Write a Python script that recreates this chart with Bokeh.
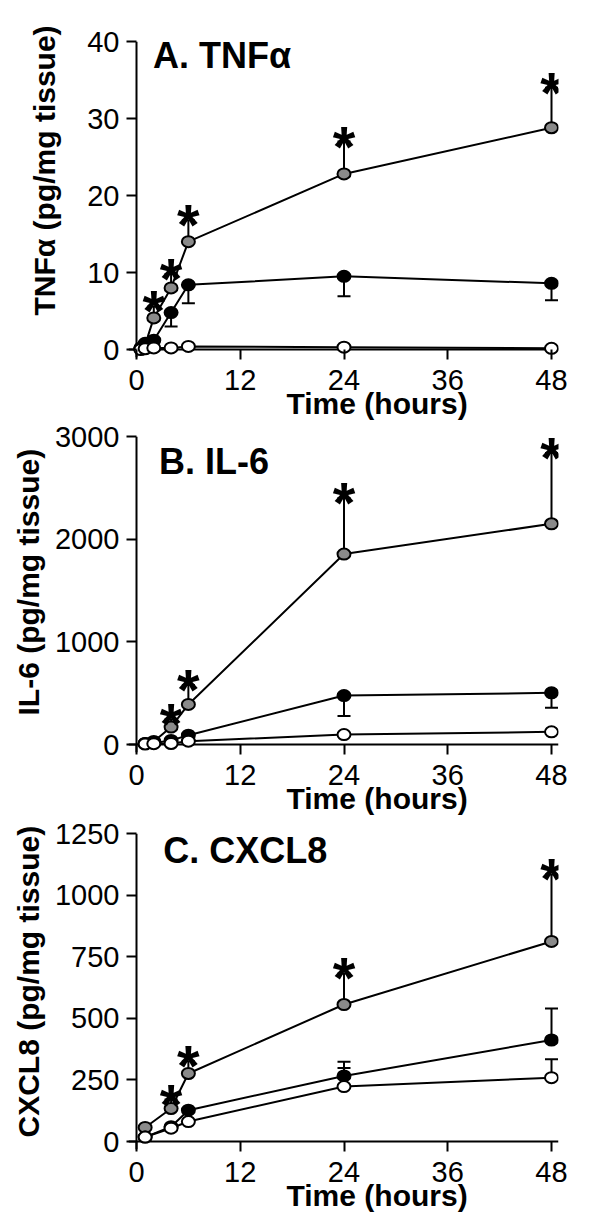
from bokeh.plotting import figure
from bokeh.models import (Range1d, ColumnDataSource, LabelSet, FixedTicker,
                          Span, Title)
from bokeh.layouts import column
from bokeh.embed import file_html
from bokeh.resources import INLINE
from bokeh.core.properties import value

FONT = "Liberation Sans"
GRAY = "#8a8a8a"

hour_ticks = [0, 12, 24, 36, 48]

# ---- Panel A: TNFα ----
tnf_time = [0.5, 1, 2, 4, 6, 24, 48]
tnf_gray = [0.2, 0.6, 4.1, 8.0, 14.0, 22.8, 28.8]
tnf_gray_err = [0, 0, 1.5, 1.8, 2.8, 4.2, 5.2]
tnf_gray_star = [False, False, True, True, True, True, True]
tnf_black = [0.1, 0.8, 1.2, 4.8, 8.4, 9.5, 8.6]
tnf_black_err = [0, 0, 0, 1.8, 2.4, 2.6, 2.2]      # drawn downwards
tnf_open = [0.0, 0.1, 0.2, 0.2, 0.4, 0.3, 0.15]
tnf_open_err = [0, 0, 0, 0, 0, 0, 0]
tnf_ticks = [0, 10, 20, 30, 40]

# ---- Panel B: IL-6 ----
il6_time = [1, 2, 4, 6, 24, 48]
il6_gray = [10, 30, 170, 390, 1855, 2150]
il6_gray_err = [0, 0, 75, 190, 545, 690]
il6_gray_star = [False, False, True, True, True, True]
il6_black = [10, 15, 40, 90, 477, 503]
il6_black_err = [0, 0, 0, 0, 200, 145]            # drawn downwards
il6_open = [5, 8, 10, 32, 97, 123]
il6_open_err = [0, 0, 0, 0, 0, 0]
il6_ticks = [0, 1000, 2000, 3000]

# ---- Panel C: CXCL8 ----
cx_time = [1, 4, 6, 24, 48]
cx_gray = [57, 134, 276, 556, 812]
cx_gray_err = [0, 36, 50, 126, 272]
cx_gray_star = [False, True, True, True, True]
cx_black = [18, 60, 127, 266, 412]
cx_black_err = [0, 0, 0, 58, 128]                 # drawn upwards
cx_open = [18, 54, 81, 223, 259]
cx_open_err = [0, 0, 0, 75, 75]
cx_ticks = [0, 250, 500, 750, 1000, 1250]

FW, FH = 430, 316          # frame size in px
PAD_L, PAD_R, PAD_B = 8, 7, 8


def panel(title, ylabel, t, gray, gerr, gstar, black, berr, bdown, opn, oerr,
          yticks, title_pos, top, bottom, ylab_standoff, ylab_offset):
    ymax = max(yticks)
    xmax = max(hour_ticks)
    kx = (FW - PAD_L - PAD_R) / xmax
    ky = (FH - PAD_B) / ymax
    p = figure(frame_width=FW, frame_height=FH,
               x_range=Range1d(-PAD_L / kx, xmax + PAD_R / kx),
               y_range=Range1d(-PAD_B / ky, ymax),
               output_backend="svg", toolbar_location=None,
               min_border_left=128, min_border_right=34,
               min_border_top=top, min_border_bottom=bottom)
    p.grid.visible = False
    p.outline_line_color = None
    p.background_fill_color = "white"
    p.border_fill_color = "white"

    for ax in (p.xaxis[0], p.yaxis[0]):
        ax.axis_line_color = None
        ax.major_tick_line_width = 2
        ax.major_tick_line_color = "black"
        ax.major_tick_in = 8
        ax.major_tick_out = 2
        ax.minor_tick_line_color = None
        ax.major_label_text_font = FONT
        ax.major_label_text_font_size = "29px"
        ax.major_label_text_color = "black"
    p.xaxis.major_label_standoff = 10
    p.yaxis.major_label_standoff = 7
    p.xaxis.ticker = FixedTicker(ticks=hour_ticks)
    p.yaxis.ticker = FixedTicker(ticks=yticks)

    p.add_layout(Title(text=ylabel, align="left", offset=ylab_offset,
                       standoff=ylab_standoff, text_font=FONT,
                       text_font_size="30px", text_font_style="bold",
                       text_color="black"), "left")
    p.add_layout(Title(text="Time (hours)", align="left", offset=158,
                       standoff=-16, text_font=FONT, text_font_size="30px",
                       text_font_style="bold", text_color="black"), "below")

    # axis lines through the origin
    p.add_layout(Span(location=0, dimension="width", line_color="black",
                      line_width=2, level="underlay"))
    p.add_layout(Span(location=0, dimension="height", line_color="black",
                      line_width=2, level="underlay"))

    # connecting lines
    for ys in (gray, black, opn):
        p.line(t, ys, line_color="black", line_width=2)

    # error bars
    def bars(ys, errs, down=False):
        xs = [x for x, e in zip(t, errs) if e > 0]
        y0 = [y for y, e in zip(ys, errs) if e > 0]
        y1 = [y - e if down else y + e for y, e in zip(ys, errs) if e > 0]
        if xs:
            p.segment(x0=xs, y0=y0, x1=xs, y1=y1, line_color="black", line_width=2)
            p.scatter(xs, y1, marker="dash", size=13, line_color="black", line_width=2)

    bars(gray, gerr)
    bars(black, berr, down=bdown)
    bars(opn, oerr)

    # markers
    for ys, fill in ((gray, GRAY), (black, "black"), (opn, "white")):
        p.ellipse(t, ys, width=13, height=11, width_units="screen",
                  height_units="screen", fill_color=fill, line_color="black",
                  line_width=2)

    # significance stars above the gray error caps
    sx = [x for x, s in zip(t, gstar) if s]
    sy = [y + e for y, e, s in zip(gray, gerr, gstar) if s]
    src = ColumnDataSource(dict(x=sx, y=sy, text=["*"] * len(sx)))
    p.add_layout(LabelSet(x="x", y="y", text="text", source=src,
                          text_align="center", text_baseline="alphabetic",
                          y_offset=-25, text_font=value(FONT),
                          text_font_size="58px", text_font_style="bold",
                          text_color="black"))

    # panel title
    tsrc = ColumnDataSource(dict(x=[title_pos[0]], y=[title_pos[1]], text=[title]))
    p.add_layout(LabelSet(x="x", y="y", text="text", source=tsrc,
                          text_align="left", text_baseline="alphabetic",
                          text_font=value(FONT), text_font_size="36px",
                          text_font_style="bold", text_color="black"))
    return p


pA = panel("A. TNFα", "TNFα (pg/mg tissue)", tnf_time, tnf_gray, tnf_gray_err,
           tnf_gray_star, tnf_black, tnf_black_err, True, tnf_open, tnf_open_err,
           tnf_ticks, (1.9, 36.6), 41, 63, 47, 42)
pB = panel("B. IL-6", "IL-6 (pg/mg tissue)", il6_time, il6_gray, il6_gray_err,
           il6_gray_star, il6_black, il6_black_err, True, il6_open, il6_open_err,
           il6_ticks, (2.6, 2630), 16, 66, 14, 37)
pC = panel("C. CXCL8", "CXCL8 (pg/mg tissue)", cx_time, cx_gray, cx_gray_err,
           cx_gray_star, cx_black, cx_black_err, False, cx_open, cx_open_err,
           cx_ticks, (3.1, 1130), 15, 66, 14, 12)

layout = column(pA, pB, pC)
open("out.html", "w").write(file_html(layout, INLINE))
